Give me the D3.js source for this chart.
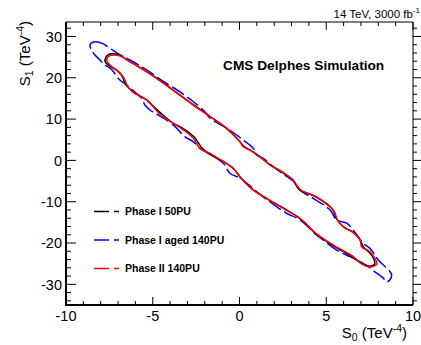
<!DOCTYPE html>
<html>
<head>
<meta charset="utf-8">
<script src="https://cdn.jsdelivr.net/npm/d3@7"></script>
<style>
  body { margin: 0; background: #fff; }
  svg { display: block; font-family: "Liberation Sans", Arial, sans-serif; }
</style>
</head>
<body>
<div class="chart"></div>
<script>
// contour points [S0, S1]
const phase1_50PU = [
  [-7.75, 24.0], [-7.6, 25.5], [-7.0, 25.6], [-6.4, 24.1], [-5.4, 21.6], [-4.4, 18.8],
  [-3.5, 16.0], [-2.7, 13.6], [-1.75, 10.8], [-0.8, 7.9], [-0.05, 4.9], [0.25, 3.4],
  [0.65, 2.4], [1.2, 0.8], [1.8, -1.2], [2.5, -3.0], [3.05, -4.6], [3.45, -7.1],
  [4.4, -8.8], [5.35, -11.8], [5.6, -14.2], [6.05, -16.3], [6.6, -17.5], [6.95, -19.2],
  [7.15, -21.0], [7.55, -22.6], [7.75, -24.0], [7.8, -25.0], [7.45, -25.6], [6.9, -24.6],
  [6.5, -23.4], [5.4, -20.6], [4.5, -18.1], [3.55, -14.3], [2.6, -11.7], [1.6, -9.3],
  [0.85, -7.3], [0.15, -4.6], [-0.3, -2.2], [-0.95, -0.2], [-1.75, 1.6], [-2.2, 3.2],
  [-2.6, 5.6], [-3.2, 7.6], [-3.85, 9.1], [-4.55, 11.5], [-5.0, 13.2], [-5.3, 14.5],
  [-5.7, 15.5], [-6.05, 16.3], [-6.35, 17.4], [-6.6, 18.6], [-6.7, 19.8], [-6.85, 20.9],
  [-7.15, 22.0], [-7.5, 22.9]
];

const phase1aged140PU = [
  [-8.62, 27.9], [-8.33, 28.7], [-7.85, 28.2], [-7.46, 27.1], [-6.9, 25.6], [-6.31, 24.3],
  [-5.35, 21.9], [-4.39, 19.1], [-3.43, 16.6], [-3.04, 15.4], [-2.66, 14.2], [-2.09, 12.2],
  [-1.7, 10.2], [-0.74, 7.8], [-0.16, 6.15], [0.22, 4.9], [0.8, 2.9], [0.99, 1.3],
  [1.37, 0.5], [1.95, -1.5], [2.72, -3.9], [3.1, -5.0], [3.49, -7.2], [4.25, -9.2],
  [5.22, -12.0], [5.6, -14.4], [6.18, -15.2], [6.56, -16.9], [7.14, -20.1], [7.52, -21.3],
  [7.81, -22.9], [8.0, -24.1], [8.39, -25.7], [8.67, -26.9], [8.77, -27.7], [8.67, -28.9],
  [8.48, -29.4], [8.29, -28.5], [7.91, -27.3], [7.42, -25.7], [6.95, -24.5], [6.37, -23.3],
  [5.6, -21.7], [4.83, -19.3], [4.45, -18.1], [3.49, -14.4], [2.72, -12.8], [2.14, -11.2],
  [1.2, -8.3], [0.41, -5.5], [0.03, -4.3], [-0.55, -3.1], [-0.93, -0.7], [-1.7, 1.5],
  [-2.28, 2.9], [-2.66, 4.5], [-3.14, 5.7], [-3.82, 8.6], [-4.6, 10.8], [-5.16, 12.2],
  [-5.45, 13.4], [-5.64, 15.0], [-5.93, 16.2], [-6.31, 17.5], [-6.5, 18.3], [-6.79, 19.1],
  [-7.08, 20.3], [-7.27, 21.5], [-7.46, 22.3], [-7.75, 23.1], [-8.04, 24.3], [-8.33, 25.5],
  [-8.52, 26.7]
];

const phase2_140PU = [
  [-7.65, 24.3], [-7.5, 25.3], [-6.89, 25.3], [-6.31, 23.9], [-5.35, 21.5], [-4.39, 18.7],
  [-3.45, 15.9], [-2.66, 13.4], [-1.7, 10.6], [-0.74, 7.8], [0.03, 4.5], [0.22, 3.3],
  [0.61, 2.5], [1.18, 0.9], [1.76, -1.1], [2.52, -2.9], [3.1, -4.8], [3.49, -7.0],
  [4.45, -8.9], [5.41, -12.0], [5.65, -14.4], [6.0, -16.1], [6.5, -17.3], [6.95, -19.3],
  [7.04, -20.9], [7.52, -22.1], [7.81, -23.7], [7.91, -25.1], [7.52, -25.8], [7.0, -24.9],
  [6.56, -23.3], [5.41, -20.5], [4.45, -17.8], [3.49, -14.0], [2.52, -11.6], [1.57, -9.2],
  [0.8, -7.2], [0.03, -4.0], [-0.36, -1.9], [-0.93, -0.3], [-1.7, 1.7], [-2.28, 2.9],
  [-2.66, 5.35], [-3.24, 7.4], [-3.82, 9.0], [-4.58, 11.2], [-5.06, 13.4], [-5.35, 14.6],
  [-5.64, 15.4], [-6.02, 16.2], [-6.31, 17.2], [-6.5, 18.3], [-6.6, 19.5], [-6.79, 20.7],
  [-7.08, 21.9], [-7.37, 22.7]
];

const seriesNames = ["Phase I 50PU", "Phase I aged 140PU", "Phase II 140PU"];
const seriesColors = ["#000000", "#0000ff", "#ff0000"];
const xTicks = [-10, -5, 0, 5, 10];
const yTicks = [-30, -20, -10, 0, 10, 20, 30];

const width = 421;
const height = 345;
const margin = { left: 66, right: 8, top: 22, bottom: 40 };

const svg = d3
  .select(".chart")
  .append("svg")
  .attr("width", width)
  .attr("height", height);

const x = d3.scaleLinear().domain([-10, 10]).range([margin.left, width - margin.right]);
const y = d3.scaleLinear().domain([-35, 33.5]).range([height - margin.bottom, margin.top]);

const x0 = x.range()[0], x1 = x.range()[1];
const y0 = y.range()[0], y1 = y.range()[1];

// minor + major ticks, ROOT style (inside)
const xMinor = d3.range(-10, 10.01, 1);
const yMinor = d3.range(-34, 33.5, 2);

function tickLines(g, vals, isMajor, pos, len) {
  g.selectAll(null)
    .data(vals)
    .enter()
    .append("line")
    .attr("stroke", "#000")
    .attr("stroke-width", 1)
    .each(function(d) {
      const l = isMajor(d) ? len[0] : len[1];
      d3.select(this).call(pos, d, l);
    });
}

const ticks = svg.append("g").attr("class", "ticks");
// bottom
tickLines(ticks, xMinor, d => d % 5 === 0, (s, d, l) =>
  s.attr("x1", x(d)).attr("x2", x(d)).attr("y1", y0).attr("y2", y0 - l), [8, 4]);
// top
tickLines(ticks, xMinor, d => d % 5 === 0, (s, d, l) =>
  s.attr("x1", x(d)).attr("x2", x(d)).attr("y1", y1).attr("y2", y1 + l), [8, 4]);
// left
tickLines(ticks, yMinor, d => d % 10 === 0, (s, d, l) =>
  s.attr("x1", x0).attr("x2", x0 + l).attr("y1", y(d)).attr("y2", y(d)), [10, 5]);
// right (outward)
tickLines(ticks, yMinor, d => d % 10 === 0, (s, d, l) =>
  s.attr("x1", x1).attr("x2", x1 + l).attr("y1", y(d)).attr("y2", y(d)), [8, 4]);

// frame
svg.append("line").attr("x1", x0).attr("x2", x1).attr("y1", y1).attr("y2", y1)
  .attr("stroke", "#000").attr("stroke-width", 1);
svg.append("line").attr("x1", x1).attr("x2", x1).attr("y1", y1).attr("y2", y0)
  .attr("stroke", "#000").attr("stroke-width", 1);
svg.append("line").attr("x1", x0 - 1).attr("x2", x1).attr("y1", y0).attr("y2", y0)
  .attr("stroke", "#000").attr("stroke-width", 2);
svg.append("line").attr("x1", x0).attr("x2", x0).attr("y1", y1).attr("y2", y0)
  .attr("stroke", "#000").attr("stroke-width", 2);

// tick labels
svg.append("g")
  .selectAll("text")
  .data(xTicks)
  .enter()
  .append("text")
  .attr("x", d => x(d))
  .attr("y", y0 + 16)
  .attr("text-anchor", "middle")
  .style("font-size", "14.5px")
  .text(d => d);

svg.append("g")
  .selectAll("text")
  .data(yTicks)
  .enter()
  .append("text")
  .attr("x", x0 - 4)
  .attr("y", d => y(d))
  .attr("dy", "0.36em")
  .attr("text-anchor", "end")
  .style("font-size", "14.5px")
  .text(d => d);

// axis titles
const xt = svg.append("text")
  .attr("x", 407)
  .attr("y", 338)
  .attr("text-anchor", "end")
  .style("font-size", "15px");
xt.append("tspan").text("S");
xt.append("tspan").attr("dy", 3).style("font-size", "10.5px").text("0");
xt.append("tspan").attr("dy", -3).text(" (TeV");
xt.append("tspan").attr("dy", -6).style("font-size", "10.5px").text("-4");
xt.append("tspan").attr("dy", 6).text(")");

const yt = svg.append("text")
  .attr("transform", "translate(30,21) rotate(-90)")
  .attr("text-anchor", "end")
  .style("font-size", "15px");
yt.append("tspan").text("S");
yt.append("tspan").attr("dy", 3).style("font-size", "10.5px").text("1");
yt.append("tspan").attr("dy", -3).text(" (TeV");
yt.append("tspan").attr("dy", -6).style("font-size", "10.5px").text("-4");
yt.append("tspan").attr("dy", 6).text(")");

// top label
const lumi = svg.append("text")
  .attr("x", 420)
  .attr("y", 18)
  .attr("text-anchor", "end")
  .style("font-size", "11.5px");
lumi.append("tspan").text("14 TeV, 3000 fb");
lumi.append("tspan").attr("dy", -5).style("font-size", "8px").text("-1");

svg.append("text")
  .attr("x", 223)
  .attr("y", 70)
  .style("font-size", "13.7px")
  .style("font-weight", "bold")
  .text("CMS Delphes Simulation");

// contours
const line = d3.line()
  .x(d => x(d[0]))
  .y(d => y(d[1]))
  .curve(d3.curveCatmullRomClosed.alpha(0.5));

const curves = [
  { data: phase1aged140PU, color: seriesColors[1], dash: "14,4" },
  { data: phase1_50PU, color: seriesColors[0], dash: null },
  { data: phase2_140PU, color: seriesColors[2], dash: null }
];

svg.append("g")
  .attr("class", "contours")
  .selectAll("path")
  .data(curves)
  .enter()
  .append("path")
  .attr("d", d => line(d.data))
  .attr("fill", "none")
  .attr("stroke", d => d.color)
  .attr("stroke-width", 1.5)
  .attr("stroke-dasharray", d => d.dash);

// legend
const legend = svg.append("g")
  .attr("class", "legend")
  .selectAll("g")
  .data(seriesNames)
  .enter()
  .append("g")
  .attr("transform", (d, i) => "translate(94," + (211.5 + i * 28.5) + ")");

legend.append("line")
  .attr("x1", 0)
  .attr("x2", 25)
  .attr("stroke", (d, i) => seriesColors[i])
  .attr("stroke-width", 1.6)
  .attr("stroke-dasharray", "15,5,5");

legend.append("text")
  .attr("x", 31)
  .attr("dy", "0.36em")
  .style("font-size", "10.5px")
  .style("font-weight", "bold")
  .text(d => d);
</script>
</body>
</html>
